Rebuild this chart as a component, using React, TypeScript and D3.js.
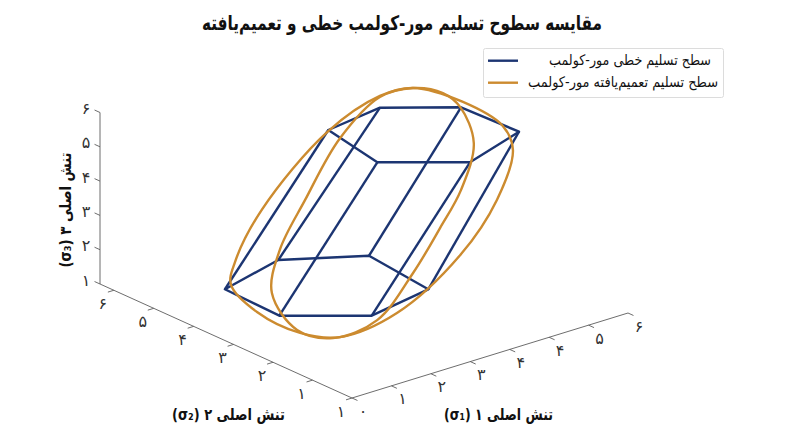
import React from "react";
import * as d3 from "d3";

const titleText = "مقایسه سطوح تسلیم مور-کولمب خطی و تعمیم‌یافته";
const linearLegend = "سطح تسلیم خطی مور-کولمب";
const curvedLegend = "سطح تسلیم تعمیم‌یافته مور-کولمب";
const xAxisTitle = "تنش اصلی ۱ (σ₁)";
const yAxisTitle = "تنش اصلی ۲ (σ₂)";
const zAxisTitle = "تنش اصلی ۳ (σ₃)";

const s1Ticks = [0, 0.857, 1.714, 2.571, 3.429, 4.286, 5.143, 6];
const s1Labels = ["۰", "۱", "۲", "۳", "۴", "۴", "۵", "۶"];
const s2Ticks = [0, 0.94, 1.88, 2.82, 3.77, 4.72, 5.67];
const s2Labels = ["۱", "۱", "۲", "۳", "۴", "۵", "۶"];
const s3Ticks = [1, 2, 3, 4, 5, 6];
const s3Labels = ["۱", "۲", "۳", "۴", "۵", "۶"];

const hexBottomS1 = [1.465, 2.992, 4.289, 4.094, 2.608, 1.413];
const hexBottomS2 = [4.63, 5.032, 4.292, 2.668, 2.387, 3.278];
const hexBottomS3 = 1;
const hexTopS1 = [3.433, 4.739, 5.798, 5.851, 4.342, 3.144];
const hexTopS2 = [4.324, 4.524, 3.755, 2.432, 1.946, 2.841];
const hexTopS3 = 5;

const wideS1 = [4.75, 5.27, 5.57, 5.48, 4.83, 3.86, 2.52, 1.57, 1.09, 0.72, 0.63, 0.88, 1.71, 3.24, 4.25];
const wideS2 = [3.75, 3.13, 2.51, 2.17, 1.84, 1.65, 1.69, 2.0, 2.43, 3.05, 3.57, 3.75, 4.01, 4.14, 3.99];
const wideS3 = [6.0, 5.72, 5.24, 4.76, 3.76, 2.66, 1.5, 1.02, 1.1, 1.52, 2.06, 2.52, 3.58, 5.12, 5.84];

const narrowS1 = [4.75, 5.09, 5.19, 5.04, 4.45, 3.84, 3.09, 2.2, 1.47, 1.08, 1.08, 1.57, 2.35, 3.36, 4.24];
const narrowS2 = [3.75, 3.41, 3.11, 2.62, 2.28, 2.11, 1.93, 1.81, 2.06, 2.49, 3.09, 3.44, 3.69, 3.97, 3.98];
const narrowS3 = [6.0, 5.9, 5.62, 4.9, 3.96, 3.2, 2.3, 1.36, 1.0, 1.16, 1.9, 2.76, 3.76, 4.98, 5.82];

const BLUE = "#1c3572";
const ORANGE = "#cc8b2f";
const FONT = "'DejaVu Sans', 'Noto Sans', sans-serif";

const s1x = d3.scaleLinear().domain([0, 6]).range([0, 276]);
const s1y = d3.scaleLinear().domain([0, 6]).range([0, -85]);
const s2x = d3.scaleLinear().domain([0, 6]).range([0, -252]);
const s2y = d3.scaleLinear().domain([0, 6]).range([0, -114]);
const s3y = d3.scaleLinear().domain([1, 6]).range([0, -171.5]);

type P = [number, number];
const project = (a: number, b: number, c: number): P => [
  352 + s1x(a) + s2x(b),
  398 + s1y(a) + s2y(b) + s3y(c),
];

const straight = d3.line<P>();
const closedCurve = d3.line<P>().curve(d3.curveCatmullRomClosed.alpha(0.5));

const curvePts = (a: number[], b: number[], c: number[]): P[] => a.map((v, i) => project(v, b[i], c[i]));

export default function App() {
  const bottom = hexBottomS1.map((v, i) => project(v, hexBottomS2[i], hexBottomS3));
  const top = hexTopS1.map((v, i) => project(v, hexTopS2[i], hexTopS3));
  const tick = 0.13;
  const axisStroke = "#5c5c5c";
  return (
    <svg
      width={800}
      height={447}
      viewBox="0 0 800 447"
      style={{ position: "absolute", left: 0, top: 0, display: "block", background: "#fff" }}
      fontFamily={FONT}
    >
      <text x={402} y={30} textAnchor="middle" fontSize={20} fontWeight={700} fill="#111" textLength={400} lengthAdjust="spacingAndGlyphs">{titleText}</text>

      {/* axes */}
      <g stroke={axisStroke} strokeWidth={0.9} fill="none">
        <path d={straight([project(0, 0, 1), project(6, 0, 1)]) ?? ""} />
        <path d={straight([project(0, 0, 1), project(0, 6, 1)]) ?? ""} />
        <path d={straight([project(0, 6, 1), project(0, 6, 6)]) ?? ""} />
        {s1Ticks.map((t) => <path key={"a" + t} d={straight([project(t, 0, 1), project(t, -tick, 1)]) ?? ""} />)}
        {s2Ticks.map((t) => <path key={"b" + t} d={straight([project(0, t, 1), project(-tick, t, 1)]) ?? ""} />)}
        {s3Ticks.map((t) => <path key={"c" + t} d={straight([project(0, 6, t), project(0, 6 + tick, t)]) ?? ""} />)}
      </g>
      <g fontSize={16} fill="#333" textAnchor="middle" dominantBaseline="central">
        {s1Ticks.map((t, i) => {
          const [x, y] = project(t, 0, 1);
          return <text key={"la" + i} x={x + 11} y={y + 13}>{s1Labels[i]}</text>;
        })}
        {s2Ticks.map((t, i) => {
          const [x, y] = project(0, t, 1);
          return <text key={"lb" + i} x={x - 11} y={y + 13}>{s2Labels[i]}</text>;
        })}
        {s3Ticks.map((t, i) => {
          const [x, y] = project(0, 6, t);
          return <text key={"lc" + i} x={x - 14} y={y - 4}>{s3Labels[i]}</text>;
        })}
      </g>
      <g fontSize={16} fontWeight={700} fill="#111" textAnchor="middle">
        <text x={498.5} y={420} direction="rtl" textLength={109} lengthAdjust="spacingAndGlyphs">{xAxisTitle}</text>
        <text x={228.5} y={420} direction="rtl" textLength={113} lengthAdjust="spacingAndGlyphs">{yAxisTitle}</text>
        <text transform="translate(71,210) rotate(-90)" direction="rtl" textLength={115} lengthAdjust="spacingAndGlyphs">{zAxisTitle}</text>
      </g>

      {/* linear prism */}
      <g fill="none" stroke={BLUE} strokeWidth={2.4} strokeLinejoin="round">
        <path d={(straight(bottom) ?? "") + "Z"} />
        <path d={(straight(top) ?? "") + "Z"} />
        {bottom.map((p, i) => <path key={i} d={straight([p, top[i]]) ?? ""} />)}
      </g>

      {/* generalised surface */}
      <g fill="none" stroke={ORANGE} strokeWidth={2.4}>
        <path d={closedCurve(curvePts(wideS1, wideS2, wideS3)) ?? ""} />
        <path d={closedCurve(curvePts(narrowS1, narrowS2, narrowS3)) ?? ""} />
      </g>

      {/* legend */}
      <rect x={483.5} y={48.5} width={240} height={49} rx={2} fill="#fff" fillOpacity={0.9} stroke="#dcdcdc" strokeWidth={1} />
      <line x1={488} x2={518} y1={60.7} y2={60.7} stroke={BLUE} strokeWidth={2.4} />
      <line x1={488} x2={518} y1={82.7} y2={82.7} stroke={ORANGE} strokeWidth={2.4} />
      <g fontSize={14.5} fill="#111" textAnchor="middle">
        <text x={630} y={65} textLength={162} lengthAdjust="spacingAndGlyphs">{linearLegend}</text>
        <text x={623} y={87} textLength={190} lengthAdjust="spacingAndGlyphs">{curvedLegend}</text>
      </g>
    </svg>
  );
}
